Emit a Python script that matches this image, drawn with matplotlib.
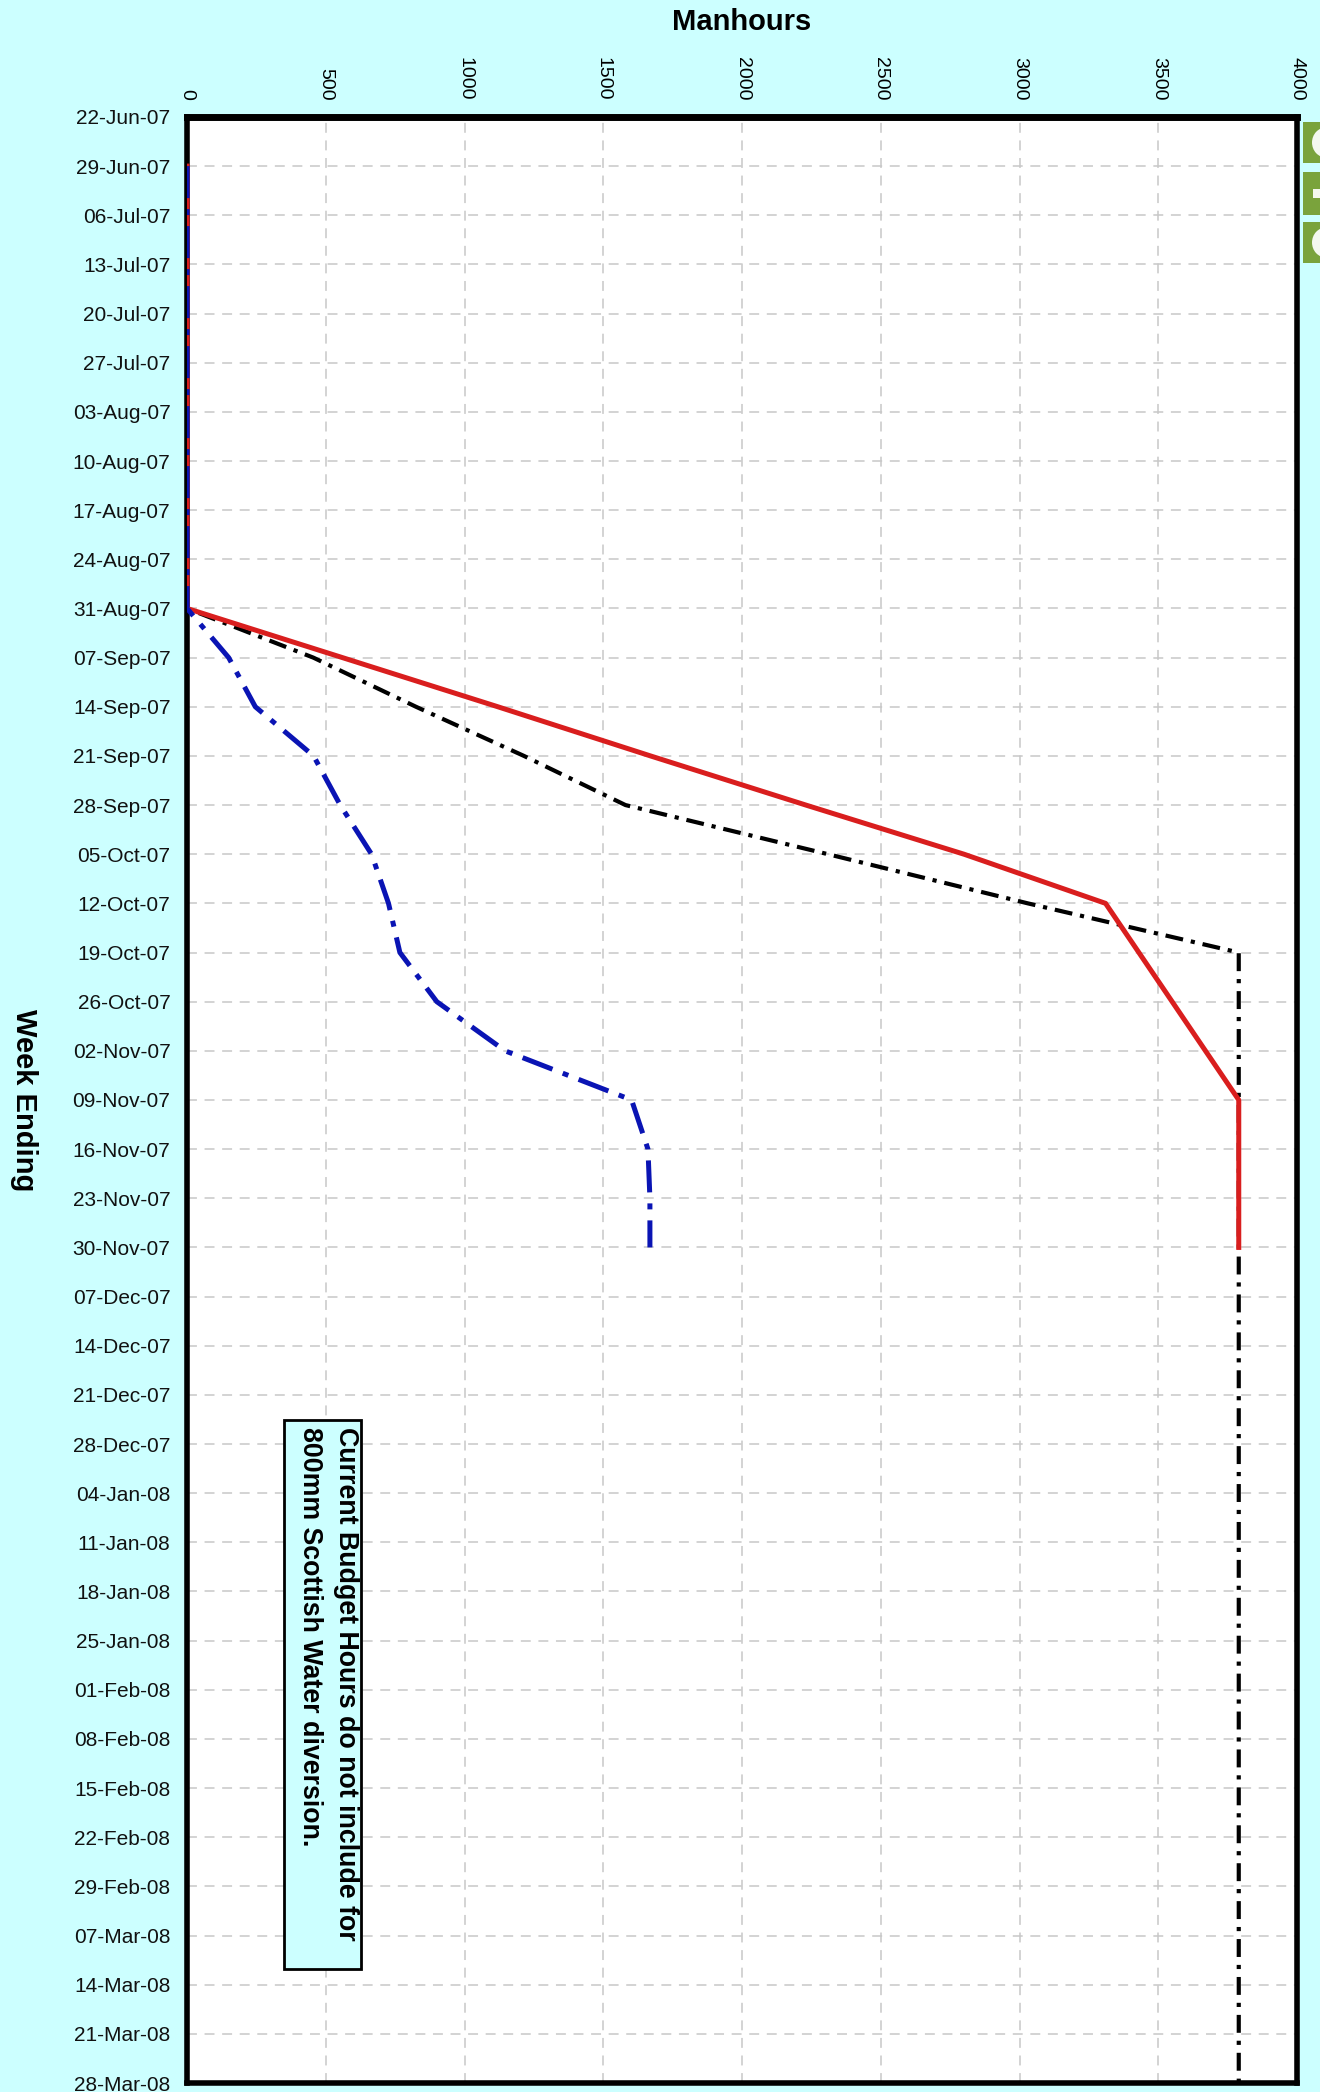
import matplotlib
matplotlib.use("Agg")
import matplotlib.pyplot as plt
import matplotlib.dates as mdates
import pandas as pd
from matplotlib.patches import Rectangle, Ellipse

plt.rcParams['font.family'] = ['Liberation Sans', 'DejaVu Sans']

# week ending dates for the series (29-Jun-07 .. 28-Mar-08)
weeks = pd.date_range('2007-06-29', '2008-03-28', freq='7D')
# y tick labels run from 22-Jun-07
tick_weeks = pd.date_range('2007-06-22', '2008-03-28', freq='7D')

# red solid - budget curve, up to 30-Nov-07
budget = [0, 0, 0, 0, 0, 0, 0, 0, 0, 0,
          560, 1120, 1670, 2230, 2800, 3310, 3430, 3550, 3670, 3790,
          3790, 3790, 3790]
# black dash-dot - forecast, runs to the end
forecast = [0, 0, 0, 0, 0, 0, 0, 0, 0, 0,
            455, 825, 1214, 1580, 2310, 3030, 3790, 3790, 3790, 3790,
            3790, 3790, 3790, 3790, 3790, 3790, 3790, 3790, 3790, 3790,
            3790, 3790, 3790, 3790, 3790, 3790, 3790, 3790, 3790, 3790]
# blue dash-dot - actual hours
actual = [0, 0, 0, 0, 0, 0, 0, 0, 0, 0,
          150, 246, 456, 552, 665, 726, 767, 900, 1146, 1602,
          1661, 1668, 1668]

x_ticks = [0, 500, 1000, 1500, 2000, 2500, 3000, 3500, 4000]

note = "Current Budget Hours do not include for\n800mm Scottish Water diversion."

bg = '#ccffff'

fig = plt.figure(figsize=(13.2, 20.92), dpi=100, facecolor=bg)
ax = fig.add_axes([0.1417, 0.0043, 0.8409, 0.9398])
ax.set_facecolor('white')

ax.plot(forecast, weeks[:len(forecast)], color='black', lw=3.0,
        linestyle=(0, (4.3, 1.9, 1.0, 1.9)), zorder=3)
ax.plot(budget, weeks[:len(budget)], color='#d91e1e', lw=3.6, zorder=4)
ax.plot(actual, weeks[:len(actual)], color='#0a14b4', lw=3.6,
        linestyle=(0, (6.4, 2.2, 1.2, 2.2)), zorder=5)

ax.set_xlim(0, 4000)
ax.set_ylim(tick_weeks[-1], tick_weeks[0])
ax.set_xticks(x_ticks)
ax.set_yticks(tick_weeks)
ax.yaxis.set_major_formatter(mdates.DateFormatter('%d-%b-%y'))
ax.xaxis.tick_top()
ax.tick_params(axis='x', labelrotation=-90, labelsize=14, length=0, pad=12)
ax.tick_params(axis='y', labelsize=15, length=0, pad=12, labelcolor='#111111')

ax.set_axisbelow(True)
ax.grid(True, color='#c8c8c8', linestyle=(0, (6.5, 5)), linewidth=1.1)

for side in ['left', 'right', 'bottom']:
    ax.spines[side].set_linewidth(4)
ax.spines['top'].set_linewidth(5)

fig.text(742 / 1320, 1 - 22 / 2092, 'Manhours', ha='center', va='center',
         fontsize=21, fontweight='bold')
fig.text(24 / 1320, 1 - 1100 / 2092, 'Week Ending', ha='center', va='center',
         rotation=-90, fontsize=21, fontweight='bold')

# note box
ax.add_patch(Rectangle((0.087, 0.058), 0.070, 0.279, transform=ax.transAxes,
                       facecolor=bg, edgecolor='black', lw=2, zorder=6))
ax.text(0.1266, 0.3337, note, transform=ax.transAxes, rotation=-90,
        ha='center', va='top', multialignment='left', fontsize=19.3,
        fontweight='bold', linespacing=1.5, zorder=7)

# cut-off green logo at right edge
green = '#7aa33c'
for y0, y1 in [(122, 163), (172, 215), (222, 263)]:
    fig.patches.append(Rectangle((1303 / 1320, 1 - y1 / 2092), 17 / 1320,
                                 (y1 - y0) / 2092, transform=fig.transFigure,
                                 facecolor=green, edgecolor='none'))
for yc in [142.5, 242.5]:
    fig.patches.append(Ellipse((1326 / 1320, 1 - yc / 2092), 28 / 1320,
                               30 / 2092, transform=fig.transFigure,
                               facecolor='#f4f8ee', edgecolor='none'))
fig.patches.append(Rectangle((1313 / 1320, 1 - 198 / 2092), 7 / 1320,
                             9 / 2092, transform=fig.transFigure,
                             facecolor='#f4f8ee', edgecolor='none'))

fig.savefig('out.png', dpi=100, facecolor=fig.get_facecolor())
